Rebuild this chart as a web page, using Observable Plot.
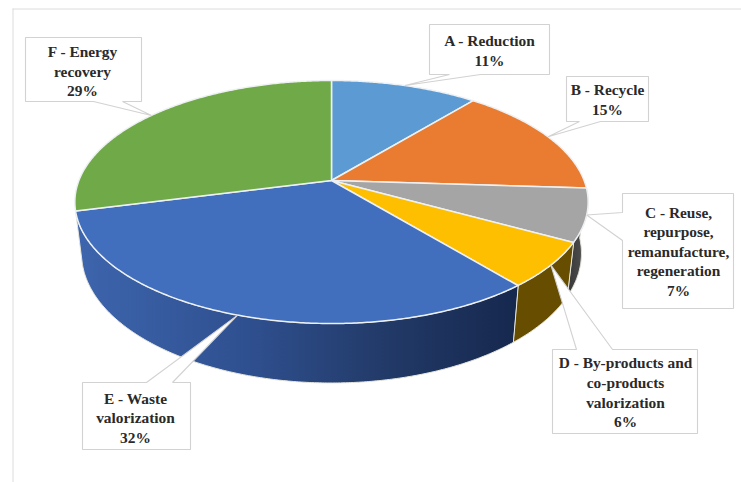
<!DOCTYPE html>
<html>
<head>
<meta charset="utf-8">
<script src="https://cdn.jsdelivr.net/npm/d3@7"></script>
<script src="https://cdn.jsdelivr.net/npm/@observablehq/plot@0.6"></script>
<style>
html,body{margin:0;padding:0;background:#fff}
svg{display:block}
</style>
</head>
<body>
<div id="chart"></div>
<script>
// ---- data ----
const categories = ["A - Reduction","B - Recycle","C - Reuse,\nrepurpose,\nremanufacture,\nregeneration","D - By-products and\nco-products\nvalorization","E - Waste\nvalorization","F - Energy\nrecovery"];
const shares = [11,15,7,6,32,29];
const topColors = ["#5b9ad3","#e97c30","#a5a5a5","#fdbf00","#416fbd","#70a948"];

// ---- layout of the perspective pie ----
const top3d = {cx:331, cy:180, a:252.6, b:117.7, k:0.177};
const bottom3d = {cx:331, cy:230, a:246, b:125.5, k:0.177};
const boxes = [
  {x0:429,y0:24,x1:549,y1:74,side:"bottom",b0:449,b1:480,tx:489,ty:49},
  {x0:566,y0:76,x1:648,y1:121,side:"bottom",b0:579,b1:600,tx:607,ty:98},
  {x0:622,y0:193,x1:733,y1:308,side:"left",b0:212,b1:240,tx:678,ty:250},
  {x0:552,y0:349,x1:697,y1:433,side:"top",b0:576,b1:612,tx:625,ty:391},
  {x0:82,y0:382,x1:190,y1:449,side:"top",b0:146,b1:172,tx:135,ty:416.5},
  {x0:25,y0:37,x1:141,y1:101,side:"bottom",b0:93,b1:122,tx:82,ty:70}
];

const cum = d3.cumsum(shares);
const total = d3.sum(shares);
const startAngle = i => (i === 0 ? 0 : cum[i-1]) / total * 360;
const endAngle = i => cum[i] / total * 360;
function project(p, deg) {
  const r = deg * Math.PI / 180, X = Math.sin(r), Y = Math.cos(r), w = 1 + p.k * Y;
  return {x: p.cx + p.a * X / w, y: p.cy - p.b * Y / w};
}
function arc(p, a0, a1) {
  const n = Math.max(2, Math.ceil(Math.abs(a1 - a0) * 2));
  return d3.range(n + 1).map(j => project(p, a0 + (a1 - a0) * j / n));
}
const polygon = (pts, o) => Plot.line(pts, {x:"x", y:"y", curve:"linear-closed", ...o});

function sideWall(i, fill) {
  const a0 = startAngle(i), a1 = endAngle(i);
  return polygon([...arc(top3d, a0, a1), ...arc(bottom3d, a1, a0)], {fill, stroke:"#e6e6dc", strokeWidth:1});
}
function topSlice(i) {
  const a0 = startAngle(i), a1 = endAngle(i);
  return polygon([{x:top3d.cx, y:top3d.cy}, ...arc(top3d, a0, a1)], {fill:topColors[i], stroke:"#eef1f3", strokeWidth:1.5});
}
function callout(i) {
  const b = boxes[i];
  const tip = project(top3d, (startAngle(i) + endAngle(i)) / 2);
  const TL={x:b.x0,y:b.y0}, TR={x:b.x1,y:b.y0}, BR={x:b.x1,y:b.y1}, BL={x:b.x0,y:b.y1};
  let pts;
  if (b.side === "top") pts = [TL,{x:b.b0,y:b.y0},tip,{x:b.b1,y:b.y0},TR,BR,BL];
  else if (b.side === "bottom") pts = [TL,TR,BR,{x:b.b1,y:b.y1},tip,{x:b.b0,y:b.y1},BL];
  else pts = [TL,TR,BR,BL,{x:b.x0,y:b.b1},tip,{x:b.x0,y:b.b0}];
  return polygon(pts, {fill:"#fff", stroke:"#d2d2d2", strokeWidth:1.1, strokeLinejoin:"miter"});
}
const defs = () => {
  const g = document.createElementNS("http://www.w3.org/2000/svg","defs");
  g.innerHTML = `
  <linearGradient id="sideE" gradientUnits="userSpaceOnUse" x1="78" y1="0" x2="516" y2="0">
    <stop offset="0" stop-color="#3d65ad"/><stop offset="0.38" stop-color="#2f5090"/>
    <stop offset="0.7" stop-color="#223a68"/><stop offset="1" stop-color="#16284e"/>
  </linearGradient>
  <linearGradient id="sideC" gradientUnits="userSpaceOnUse" x1="570" y1="0" x2="588" y2="0">
    <stop offset="0" stop-color="#3c3c3c"/><stop offset="1" stop-color="#565656"/>
  </linearGradient>`;
  return g;
};
const labels = boxes.map((b,i) => ({x:b.tx, y:b.ty, t:`${categories[i]}\n${shares[i]}%`}));

const chart = Plot.plot({
  width:741, height:482, margin:0,
  x:{domain:[0,741], range:[0,741], axis:null},
  y:{domain:[0,482], range:[0,482], axis:null},
  style:{background:"#fff"},
  marks:[
    defs,
    Plot.ruleY([8.5], {x1:12.5, x2:741, stroke:"#dcdcdc", strokeWidth:1}),
    Plot.ruleX([12.5], {y1:8.5, y2:482, stroke:"#dcdcdc", strokeWidth:1}),
    sideWall(2,"url(#sideC)"),
    sideWall(3,"#664d00"),
    sideWall(4,"url(#sideE)"),
    ...shares.map((_,i) => topSlice(i)),
    ...shares.map((_,i) => callout(i)),
    Plot.text(labels, {x:"x", y:"y", text:"t", fontFamily:"'Liberation Serif','Times New Roman',serif", fontSize:15.4, fontWeight:700, lineHeight:1.27, fill:"#2a2a2a", textAnchor:"middle", lineAnchor:"middle"})
  ]
});
document.getElementById("chart").append(chart);
</script>
</body>
</html>
